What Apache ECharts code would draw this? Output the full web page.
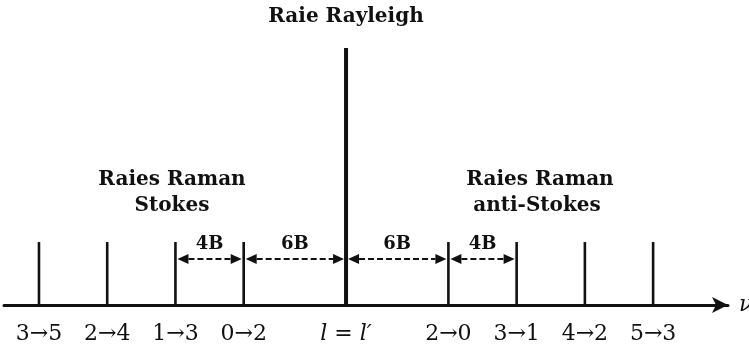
<!DOCTYPE html>
<html>
<head>
<meta charset="utf-8">
<script src="https://cdn.jsdelivr.net/npm/echarts@6/dist/echarts.min.js"></script>
<style>
  html, body { margin: 0; padding: 0; background: #fff; }
  #chart { width: 749px; height: 348px; }
</style>
</head>
<body>
<div id="chart"></div>
<script>
// raman shift in units of B (rotational constant), centre = Rayleigh line
const shifts = [-18, -14, -10, -6, 0, 6, 10, 14, 18]
const intensities = [24.5, 24.5, 24.5, 24.5, 100, 24.5, 24.5, 24.5, 24.5]
const transitions = ['3→5', '2→4', '1→3', '0→2', 'l = l′', '2→0', '3→1', '4→2', '5→3']

// spacing arrows between lines
const gapStarts = [-10, -6, 0, 6]
const gapEnds = [-6, 0, 6, 10]
const gapLabels = ['4B', '6B', '6B', '4B']
const arrowLevel = 17.9

const serif = '"DejaVu Serif", "Liberation Serif", serif'
const headFont = 'bold 20px ' + serif

const chart = echarts.init(document.getElementById('chart'))

const option = {
  animation: false,
  grid: { left: 4, right: 21, top: 48, bottom: 43, outerBoundsMode: 'none' },
  xAxis: {
    type: 'value',
    min: -20.05,
    max: 22.39,
    splitLine: { show: false },
    axisTick: { show: false },
    axisLabel: { show: false },
    axisLine: {
      show: true,
      symbol: ['none', 'arrow'],
      symbolSize: [12, 16],
      lineStyle: { color: '#111', width: 3 }
    },
    name: 'ν',
    nameLocation: 'end',
    nameGap: 11,
    nameTextStyle: { fontFamily: serif, fontStyle: 'italic', fontSize: 22, color: '#111' }
  },
  yAxis: {
    type: 'value',
    min: 0,
    max: 100,
    show: false
  },
  graphic: [
    { type: 'text', x: 346, y: 17, style: { text: 'Raie Rayleigh', font: headFont, fill: '#111', align: 'center', verticalAlign: 'middle' } },
    { type: 'text', x: 172, y: 180, style: { text: 'Raies Raman', font: headFont, fill: '#111', align: 'center', verticalAlign: 'middle' } },
    { type: 'text', x: 172, y: 206, style: { text: 'Stokes', font: headFont, fill: '#111', align: 'center', verticalAlign: 'middle' } },
    { type: 'text', x: 540, y: 180, style: { text: 'Raies Raman', font: headFont, fill: '#111', align: 'center', verticalAlign: 'middle' } },
    { type: 'text', x: 537, y: 206, style: { text: 'anti-Stokes', font: headFont, fill: '#111', align: 'center', verticalAlign: 'middle' } }
  ],
  series: [
    {
      type: 'custom',
      name: 'raies',
      data: shifts.map((s, i) => [s, intensities[i], transitions[i]]),
      renderItem: function(params, api) {
        const base = api.coord([api.value(0), 0])
        const top = api.coord([api.value(0), api.value(1)])
        const big = api.value(1) > 50
        const lbl = transitions[params.dataIndex]
        const txt = lbl.indexOf('l') === 0 ? '{i|l} = {i|l′}' : lbl
        return {
          type: 'group',
          children: [
            {
              type: 'line',
              shape: { x1: base[0], y1: base[1], x2: top[0], y2: top[1] },
              style: { stroke: '#111', lineWidth: big ? 4 : 2.6 }
            },
            {
              type: 'text',
              x: base[0],
              y: base[1] + 29,
              style: {
                text: txt,
                font: '22px ' + serif,
                fill: '#111',
                align: 'center',
                verticalAlign: 'middle',
                rich: { i: { fontFamily: serif, fontStyle: 'italic', fontSize: 22, fill: '#111' } }
              }
            }
          ]
        }
      }
    },
    {
      type: 'custom',
      name: 'ecarts',
      data: gapStarts.map((s, i) => [s, gapEnds[i], arrowLevel]),
      renderItem: function(params, api) {
        const a = api.coord([api.value(0), api.value(2)])
        const b = api.coord([api.value(1), api.value(2)])
        const head = 11
        const hw = 5
        const x1 = a[0] + 2
        const x2 = b[0] - 2
        const y = a[1]
        return {
          type: 'group',
          children: [
            {
              type: 'line',
              shape: { x1: x1 + head, y1: y, x2: x2 - head, y2: y },
              style: { stroke: '#111', lineWidth: 1.8, lineDash: [6, 3] }
            },
            {
              type: 'polygon',
              shape: { points: [[x1, y], [x1 + head, y - hw], [x1 + head, y + hw]] },
              style: { fill: '#111' }
            },
            {
              type: 'polygon',
              shape: { points: [[x2, y], [x2 - head, y - hw], [x2 - head, y + hw]] },
              style: { fill: '#111' }
            },
            {
              type: 'text',
              x: (a[0] + b[0]) / 2,
              y: y - 15,
              style: { text: gapLabels[params.dataIndex], font: 'bold 18px ' + serif, fill: '#111', align: 'center', verticalAlign: 'middle' }
            }
          ]
        }
      }
    }
  ]
}

chart.setOption(option)
</script>
</body>
</html>
